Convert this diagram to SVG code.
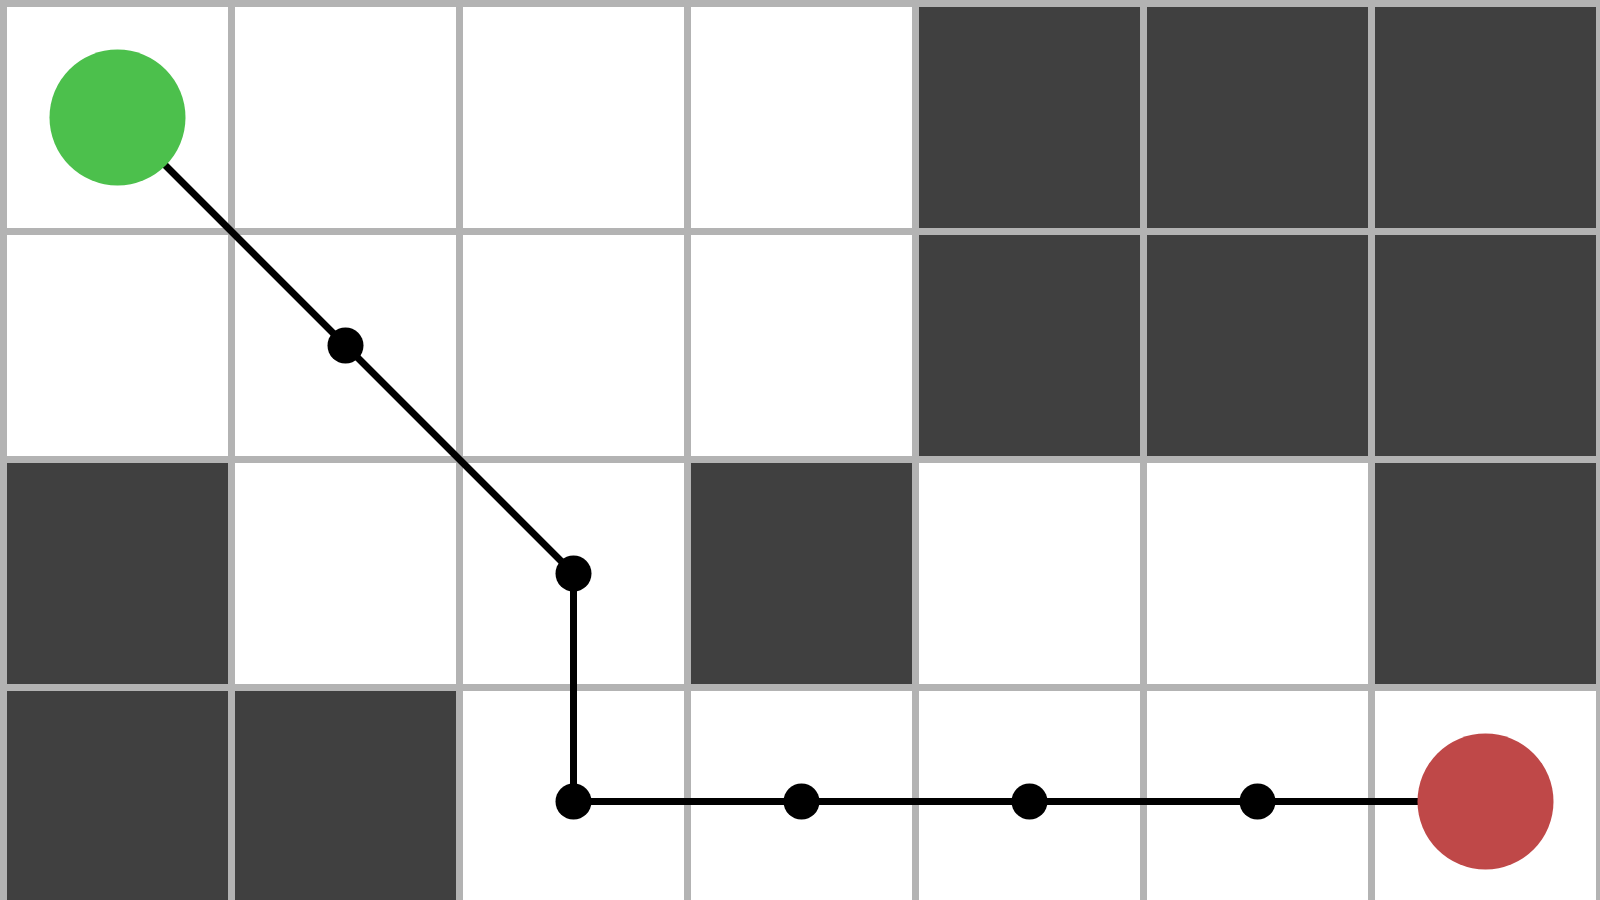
<svg xmlns="http://www.w3.org/2000/svg" width="1600" height="900" viewBox="0 0 1600 900">
  <style>
    .free { fill: #ffffff; }
    .wall { fill: #404040; }
    .grid line { stroke: #b3b3b3; stroke-width: 7; }
    .path { fill: none; stroke: #000000; stroke-width: 7; stroke-linejoin: round; }
    .wp { fill: #000000; }
  </style>
  <rect x="0" y="0" width="1600" height="900" fill="#ffffff"/>
  <g id="cells">
    <rect class="wall" x="915.5" y="3.5" width="228" height="228"/>
    <rect class="wall" x="1143.5" y="3.5" width="228" height="228"/>
    <rect class="wall" x="1371.5" y="3.5" width="228" height="228"/>
    <rect class="wall" x="915.5" y="231.5" width="228" height="228"/>
    <rect class="wall" x="1143.5" y="231.5" width="228" height="228"/>
    <rect class="wall" x="1371.5" y="231.5" width="228" height="228"/>
    <rect class="wall" x="3.5" y="459.5" width="228" height="228"/>
    <rect class="wall" x="687.5" y="459.5" width="228" height="228"/>
    <rect class="wall" x="1371.5" y="459.5" width="228" height="228"/>
    <rect class="wall" x="3.5" y="687.5" width="228" height="228"/>
    <rect class="wall" x="231.5" y="687.5" width="228" height="228"/>
  </g>
  <g id="grid" class="grid">
    <line x1="3.5" y1="0" x2="3.5" y2="900"/>
    <line x1="231.5" y1="0" x2="231.5" y2="900"/>
    <line x1="459.5" y1="0" x2="459.5" y2="900"/>
    <line x1="687.5" y1="0" x2="687.5" y2="900"/>
    <line x1="915.5" y1="0" x2="915.5" y2="900"/>
    <line x1="1143.5" y1="0" x2="1143.5" y2="900"/>
    <line x1="1371.5" y1="0" x2="1371.5" y2="900"/>
    <line x1="1599.5" y1="0" x2="1599.5" y2="900"/>
    <line x1="0" y1="3.5" x2="1600" y2="3.5"/>
    <line x1="0" y1="231.5" x2="1600" y2="231.5"/>
    <line x1="0" y1="459.5" x2="1600" y2="459.5"/>
    <line x1="0" y1="687.5" x2="1600" y2="687.5"/>
  </g>
  <g id="connectors">
    <polyline class="path" points="117.5,117.5 345.5,345.5 573.5,573.5 573.5,801.5 801.5,801.5 1029.5,801.5 1257.5,801.5 1485.5,801.5"/>
  </g>
  <g id="waypoint-1"><circle class="wp" cx="345.5" cy="345.5" r="18"/></g>
  <g id="waypoint-2"><circle class="wp" cx="573.5" cy="573.5" r="18"/></g>
  <g id="waypoint-3"><circle class="wp" cx="573.5" cy="801.5" r="18"/></g>
  <g id="waypoint-4"><circle class="wp" cx="801.5" cy="801.5" r="18"/></g>
  <g id="waypoint-5"><circle class="wp" cx="1029.5" cy="801.5" r="18"/></g>
  <g id="waypoint-6"><circle class="wp" cx="1257.5" cy="801.5" r="18"/></g>
  <g id="start"><circle cx="117.5" cy="117.5" r="68" fill="#4cc04c"/></g>
  <g id="goal"><circle cx="1485.5" cy="801.5" r="68" fill="#bf4848"/></g>
</svg>
